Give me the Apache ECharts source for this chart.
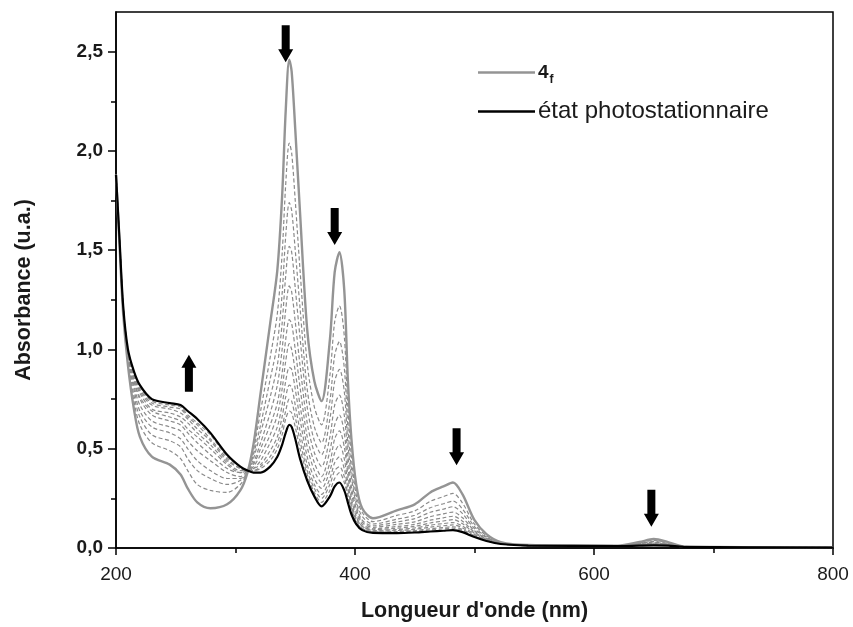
<!DOCTYPE html>
<html>
<head>
<meta charset="utf-8">
<script src="https://cdn.jsdelivr.net/npm/echarts@6/dist/echarts.min.js"></script>
<style>html,body{margin:0;padding:0;background:#fff}#c{width:853px;height:627px}</style>
</head>
<body>
<div id="c"></div>
<script>
// Wavelengths (nm)
const wavelengths = [200,203,206,210,215,220,230,245,254,260,268,279,293,304,310,315,321,329,335,339,342,345,347,350,354,360,366,372,379,383,387,391,394,397,401,406,415,435,450,463,474,482,490,500,510,522,545,620,638,650,662,675,800];
// Open form 4f (initial spectrum)
const spec4f = [1.88,1.52,1.18,0.92,0.70,0.56,0.46,0.42,0.37,0.30,0.23,0.20,0.22,0.29,0.38,0.52,0.78,1.13,1.40,1.77,2.20,2.46,2.40,2.11,1.69,1.10,0.84,0.74,1.05,1.39,1.49,1.30,0.85,0.55,0.32,0.20,0.15,0.19,0.22,0.28,0.31,0.33,0.27,0.14,0.07,0.03,0.015,0.012,0.03,0.045,0.03,0.008,0.003];
// Photostationary state
const specPSS = [1.88,1.55,1.22,1.00,0.89,0.82,0.75,0.73,0.72,0.69,0.65,0.58,0.47,0.41,0.39,0.38,0.38,0.41,0.46,0.52,0.58,0.62,0.61,0.55,0.45,0.34,0.26,0.21,0.26,0.31,0.33,0.29,0.23,0.17,0.12,0.09,0.076,0.075,0.078,0.083,0.087,0.09,0.08,0.055,0.035,0.02,0.012,0.01,0.012,0.013,0.012,0.006,0.002];
// Intermediate irradiation spectra (dashed)
const inter1 = [1.88,1.53,1.19,0.94,0.74,0.62,0.53,0.49,0.45,0.39,0.32,0.29,0.28,0.32,0.38,0.49,0.69,0.96,1.18,1.48,1.83,2.04,1.99,1.75,1.40,0.93,0.71,0.62,0.87,1.14,1.22,1.07,0.71,0.46,0.27,0.18,0.133,0.164,0.187,0.235,0.259,0.275,0.226,0.12,0.062,0.028,0.014,0.012,0.026,0.038,0.026,0.008,0.003];
const inter2 = [1.88,1.53,1.20,0.95,0.77,0.66,0.57,0.54,0.51,0.45,0.39,0.35,0.32,0.34,0.38,0.47,0.62,0.85,1.03,1.28,1.57,1.74,1.70,1.50,1.21,0.80,0.61,0.53,0.74,0.97,1.04,0.91,0.61,0.40,0.24,0.16,0.121,0.145,0.165,0.203,0.223,0.236,0.196,0.107,0.056,0.026,0.014,0.011,0.023,0.033,0.023,0.007,0.003];
const inter3 = [1.88,1.54,1.20,0.96,0.80,0.69,0.61,0.58,0.55,0.50,0.44,0.39,0.35,0.35,0.38,0.45,0.58,0.76,0.92,1.13,1.37,1.52,1.49,1.31,1.06,0.71,0.54,0.47,0.65,0.84,0.90,0.79,0.53,0.36,0.22,0.14,0.112,0.131,0.148,0.18,0.196,0.208,0.173,0.097,0.052,0.025,0.013,0.011,0.021,0.029,0.021,0.007,0.003];
const inter4 = [1.88,1.54,1.20,0.97,0.82,0.72,0.64,0.61,0.59,0.54,0.49,0.44,0.38,0.36,0.39,0.43,0.53,0.68,0.82,1.00,1.20,1.32,1.29,1.14,0.92,0.63,0.48,0.41,0.56,0.72,0.77,0.67,0.47,0.31,0.20,0.13,0.104,0.119,0.132,0.158,0.172,0.181,0.152,0.087,0.048,0.024,0.013,0.011,0.019,0.025,0.019,0.007,0.003];
const inter5 = [1.88,1.54,1.21,0.98,0.84,0.75,0.67,0.64,0.62,0.58,0.53,0.47,0.40,0.38,0.39,0.42,0.50,0.62,0.73,0.88,1.05,1.15,1.13,1.00,0.81,0.56,0.43,0.36,0.49,0.62,0.67,0.58,0.41,0.28,0.18,0.12,0.097,0.108,0.119,0.14,0.152,0.16,0.135,0.08,0.045,0.023,0.013,0.011,0.017,0.022,0.017,0.007,0.003];
const inter6 = [1.88,1.54,1.21,0.98,0.85,0.76,0.69,0.66,0.64,0.60,0.56,0.50,0.42,0.38,0.39,0.41,0.47,0.57,0.67,0.80,0.94,1.03,1.00,0.89,0.72,0.51,0.39,0.33,0.43,0.55,0.59,0.51,0.37,0.25,0.16,0.11,0.092,0.10,0.109,0.126,0.136,0.143,0.122,0.074,0.043,0.022,0.012,0.010,0.016,0.020,0.016,0.006,0.002];
const inter7 = [1.88,1.55,1.21,0.99,0.86,0.78,0.70,0.68,0.66,0.63,0.58,0.52,0.43,0.39,0.39,0.40,0.44,0.53,0.61,0.72,0.84,0.91,0.90,0.80,0.65,0.46,0.35,0.30,0.39,0.48,0.52,0.45,0.33,0.23,0.15,0.11,0.088,0.093,0.101,0.115,0.123,0.128,0.11,0.069,0.041,0.022,0.012,0.010,0.015,0.018,0.015,0.006,0.002];
const inter8 = [1.88,1.55,1.22,0.99,0.87,0.79,0.72,0.70,0.68,0.65,0.60,0.54,0.44,0.40,0.39,0.40,0.42,0.49,0.56,0.66,0.76,0.82,0.81,0.72,0.59,0.42,0.32,0.27,0.35,0.43,0.46,0.40,0.30,0.21,0.14,0.10,0.084,0.088,0.094,0.105,0.112,0.116,0.101,0.064,0.039,0.021,0.012,0.010,0.014,0.017,0.014,0.006,0.002];
const inter9 = [1.88,1.55,1.22,0.99,0.88,0.80,0.73,0.71,0.70,0.66,0.62,0.55,0.45,0.40,0.39,0.39,0.41,0.46,0.53,0.61,0.69,0.75,0.74,0.66,0.54,0.39,0.30,0.25,0.32,0.39,0.41,0.36,0.27,0.20,0.13,0.098,0.081,0.083,0.088,0.097,0.103,0.107,0.093,0.061,0.037,0.021,0.012,0.010,0.013,0.015,0.013,0.006,0.002];
const inter10 = [1.88,1.55,1.22,1.00,0.88,0.81,0.74,0.72,0.71,0.67,0.63,0.57,0.46,0.41,0.39,0.39,0.40,0.44,0.50,0.57,0.65,0.69,0.68,0.61,0.50,0.37,0.28,0.23,0.29,0.35,0.38,0.33,0.26,0.19,0.13,0.094,0.079,0.08,0.084,0.091,0.096,0.10,0.088,0.058,0.036,0.020,0.012,0.010,0.013,0.014,0.013,0.006,0.002];
const intermediates = [inter1,inter2,inter3,inter4,inter5,inter6,inter7,inter8,inter9,inter10];

// Axis ticks
const xTicks = [200,400,600,800];
const yMajor = [0,0.5,1.0,1.5,2.0,2.5];
const yMinor = [0.25,0.75,1.25,1.75,2.25];

// Arrow annotations: [wavelength, absorbance(center), direction]
const arrowMarks = [[261,0.88,'up'],[342,2.54,'down'],[383,1.62,'down'],[485,0.51,'down'],[648,0.20,'down']];

const pair = v => wavelengths.map((w,i)=>[w,v[i]]);
const FONT = '"Liberation Sans", Arial, Helvetica, sans-serif';
const downPath = 'path://M3.5,0 L11.5,0 L11.5,24 L15,24 L7.5,37 L0,24 L3.5,24 Z';
const upPath = 'path://M3.5,37 L11.5,37 L11.5,13 L15,13 L7.5,0 L0,13 L3.5,13 Z';

const gridBox = {left:116, right:20, top:12, bottom:79};
const series = [];
intermediates.forEach((v,k)=>{
  series.push({type:'line', name:'inter'+(k+1), data:pair(v), symbol:'none', smooth:0.3, silent:true,
    lineStyle:{color:'#8a8a8a', width:1.2, type:[4,2.5]}, z:2});
});
series.push({type:'line', name:'4f', data:pair(spec4f), symbol:'none', smooth:0.3,
  lineStyle:{color:'#949494', width:2.4}, itemStyle:{color:'#949494'}, z:3});
series.push({type:'line', name:'état photostationnaire', data:pair(specPSS), symbol:'none', smooth:0.3,
  lineStyle:{color:'#000', width:2.2}, itemStyle:{color:'#000'}, z:4,
  markPoint:{silent:true, label:{show:false},
    data: arrowMarks.map(a=>({coord:[a[0],a[1]], symbol: a[2]==='up'?upPath:downPath, symbolSize:[15,37], itemStyle:{color:'#000'}}))}
});

const chart = echarts.init(document.getElementById('c'), null, {renderer:'canvas'});
chart.setOption({
  animation:false,
  backgroundColor:'#fff',
  grid:[Object.assign({show:true, borderColor:'#000', borderWidth:1.5, containLabel:false}, gridBox),
        Object.assign({show:false}, gridBox)],
  legend:{
    data:[{name:'4f', icon:'rect'},{name:'état photostationnaire', icon:'rect'}],
    orient:'vertical', left:473, top:58,
    itemWidth:57, itemHeight:2.5, itemGap:14, selectedMode:false,
    textStyle:{fontFamily:FONT, fontSize:24, color:'#1a1a1a', padding:[0,0,0,-2],
      rich:{b:{fontFamily:FONT, fontSize:19, fontWeight:'bold', color:'#1a1a1a'},
            s:{fontFamily:FONT, fontSize:12, fontWeight:'bold', color:'#1a1a1a', padding:[14,0,0,1]}}},
    formatter: n => n==='4f' ? '{b|4}{s|f}' : n
  },
  xAxis:[{
    type:'value', min:200, max:800, interval:200, gridIndex:0,
    axisLine:{show:true, onZero:false, lineStyle:{color:'#000', width:1.5}},
    axisTick:{show:true, inside:false, length:7, lineStyle:{color:'#000', width:1.5}},
    minorTick:{show:true, splitNumber:2, length:5, lineStyle:{color:'#000', width:1.5}},
    axisLabel:{fontFamily:FONT, fontSize:19, color:'#1a1a1a', margin:17},
    splitLine:{show:false},
    name:"Longueur d'onde (nm)", nameLocation:'middle', nameGap:52,
    nameTextStyle:{fontFamily:FONT, fontSize:21.5, fontWeight:'bold', color:'#1a1a1a'}
  },{
    type:'value', min:200, max:800, gridIndex:1, show:false
  }],
  yAxis:[{
    type:'value', min:0, max:2.7, gridIndex:0,
    axisLine:{show:true, onZero:false, lineStyle:{color:'#000', width:1.5}},
    axisTick:{show:true, inside:false, length:8, customValues:yMajor, lineStyle:{color:'#000', width:1.5}},
    axisLabel:{customValues:yMajor, fontFamily:FONT, fontSize:19, fontWeight:'bold', color:'#1a1a1a', margin:13,
      formatter: v => v.toFixed(1).replace('.', ',')},
    splitLine:{show:false},
    name:'Absorbance (u.a.)', nameLocation:'middle', nameGap:81,
    nameTextStyle:{fontFamily:FONT, fontSize:21.5, fontWeight:'bold', color:'#1a1a1a', padding:[0,20,0,0]}
  },{
    type:'value', min:0, max:2.7, gridIndex:1, position:'left',
    axisLine:{show:false},
    axisTick:{show:true, inside:false, length:5, customValues:yMinor, lineStyle:{color:'#000', width:1.5}},
    axisLabel:{show:false}, splitLine:{show:false}
  }],
  series: series
});
</script>
</body>
</html>
